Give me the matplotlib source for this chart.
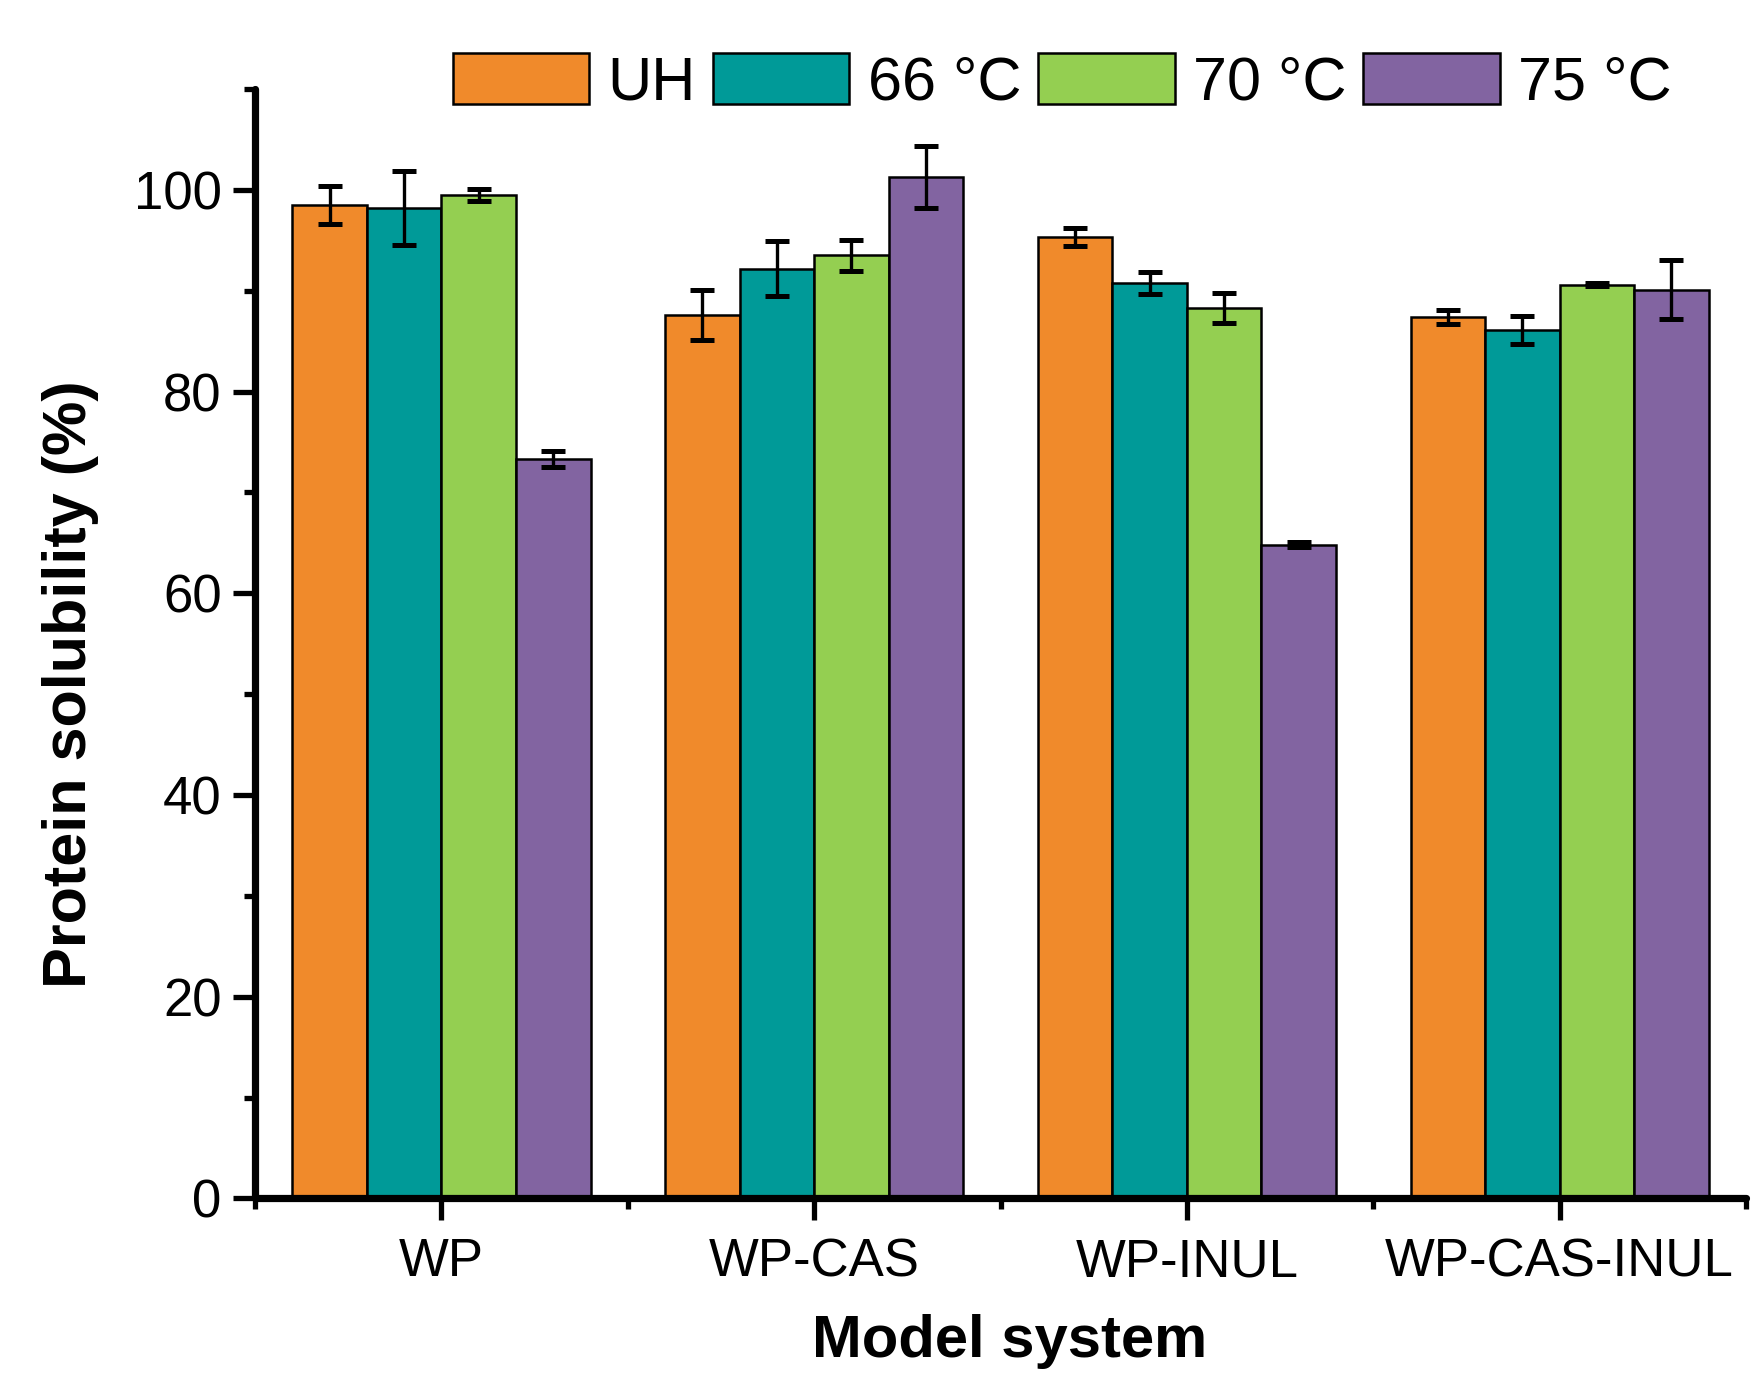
import numpy as np
import matplotlib
matplotlib.use('Agg')
import matplotlib.pyplot as plt
from matplotlib.ticker import MultipleLocator

plt.rcParams['font.family'] = ['Liberation Sans', 'DejaVu Sans']

# data
systems = ['WP', 'WP-CAS', 'WP-INUL', 'WP-CAS-INUL']
labels = ['UH', '66 °C', '70 °C', '75 °C']
colors = ['#F08A2B', '#009A98', '#94CF51', '#8264A1']

uh = [98.5, 87.6, 95.3, 87.4]
t66 = [98.2, 92.2, 90.8, 86.1]
t70 = [99.5, 93.5, 88.3, 90.6]
t75 = [73.3, 101.3, 64.8, 90.1]

uh_err = [1.9, 2.5, 0.9, 0.7]
t66_err = [3.7, 2.7, 1.1, 1.4]
t70_err = [0.6, 1.5, 1.5, 0.15]
t75_err = [0.8, 3.1, 0.25, 2.9]

vals = [uh, t66, t70, t75]
errs = [uh_err, t66_err, t70_err, t75_err]

fig = plt.figure(figsize=(17.53, 13.76), dpi=100)
ax = fig.add_axes([0.1455, 0.129, 0.8505, 0.8063])

x = np.arange(1, len(systems) + 1)
w = 0.2
offs = [-1.5, -0.5, 0.5, 1.5]
for i in range(4):
    ax.bar(x + offs[i] * w, vals[i], w, color=colors[i], edgecolor='black',
           linewidth=1.8, label=labels[i], zorder=2)
    ax.errorbar(x + offs[i] * w, vals[i], yerr=errs[i], fmt='none',
                ecolor='black', elinewidth=2.4, capsize=8.5, capthick=3.6,
                zorder=3)

ax.set_xlim(0.5, 4.5)
ax.set_ylim(0, 110)
ax.set_xticks(x)
ax.set_xticklabels(systems)
ax.xaxis.set_minor_locator(MultipleLocator(1, offset=0.5))
ax.set_yticks([0, 20, 40, 60, 80, 100])
ax.yaxis.set_minor_locator(MultipleLocator(10))

for s in ['top', 'right']:
    ax.spines[s].set_visible(False)
for s in ['left', 'bottom']:
    ax.spines[s].set_linewidth(5.2)
    ax.spines[s].set_capstyle('round')

ax.tick_params(which='major', direction='out', length=16, width=3.8,
               labelsize=38)
ax.tick_params(which='minor', direction='out', length=8, width=3.8)
ax.tick_params(axis='x', which='major', pad=12)
ax.tick_params(axis='y', which='major', pad=8)

ax.set_ylabel('Protein solubility (%)', fontsize=44, fontweight='bold')
ax.yaxis.set_label_coords(-0.105, 0.464)
ax.set_xlabel('Model system', fontsize=43, fontweight='bold')
ax.xaxis.set_label_coords(0.506, -0.104)

fig.legend(loc='center', bbox_to_anchor=(0.606, 0.940), ncol=4,
           frameon=False, fontsize=44, handlelength=2.23, handleheight=0.9,
           handletextpad=0.3, columnspacing=0.28)

fig.savefig('out.png', dpi=100)
